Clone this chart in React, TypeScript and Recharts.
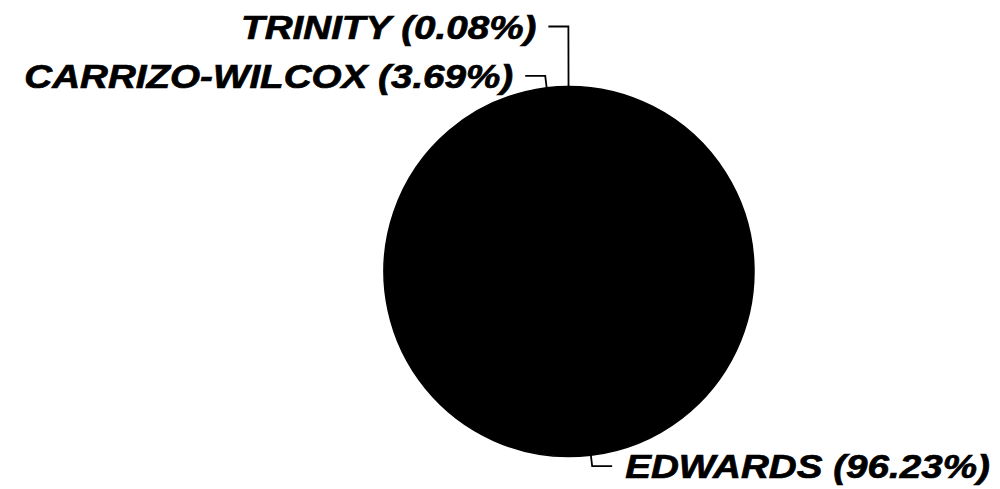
import React from "react";
import { PieChart, Pie, Cell } from "recharts";

const aquifers = ["TRINITY", "CARRIZO-WILCOX", "EDWARDS"];
const shares = [0.08, 3.69, 96.23];

const data = aquifers.map((name, i) => ({ name, value: shares[i] }));

const RAD = Math.PI / 180;
// how far each leader line sticks out from the pie before it bends
const elbowLength = [60, 12, 11];

function renderLabel(props: any) {
  const { cx, cy, midAngle, outerRadius, index, name, value } = props;
  const cos = Math.cos(-midAngle * RAD);
  const sin = Math.sin(-midAngle * RAD);
  const sx = cx + outerRadius * cos;
  const sy = cy + outerRadius * sin;
  const ext = elbowLength[index] ?? 12;
  const mx = cx + (outerRadius + ext) * cos;
  const my = cy + (outerRadius + ext) * sin;
  const right = cos >= 0;
  const ex = mx + (right ? 20 : -20);
  const tx = ex + (right ? 13 : -12);
  const ty = my + 12;
  return (
    <g>
      <polyline
        points={`${sx},${sy} ${mx},${my} ${ex},${my}`}
        fill="none"
        stroke="#000"
        strokeWidth={1.8}
      />
      <text
        x={0}
        y={0}
        transform={`translate(${tx},${ty}) scale(1.17,1)`}
        textAnchor={right ? "start" : "end"}
        fill="#000"
        stroke="#000"
        strokeWidth={0.7}
        fontFamily="'Liberation Sans', Arial, sans-serif"
        fontWeight="bold"
        fontStyle="italic"
        fontSize={33}
      >
        {`${name} (${value.toFixed(2)}%)`}
      </text>
    </g>
  );
}

export default function App() {
  return (
    <div style={{ position: "absolute", left: 0, top: 0, background: "#fff" }}>
      <PieChart width={1000} height={489}>
        <Pie
          data={data}
          dataKey="value"
          nameKey="name"
          cx={564}
          cy={266.5}
          outerRadius={185}
          startAngle={90}
          endAngle={450}
          stroke="#000"
          strokeWidth={1.5}
          label={renderLabel}
          labelLine={false}
          isAnimationActive={false}
        >
          {data.map((d) => (
            <Cell key={d.name} fill="#000" />
          ))}
        </Pie>
      </PieChart>
    </div>
  );
}
